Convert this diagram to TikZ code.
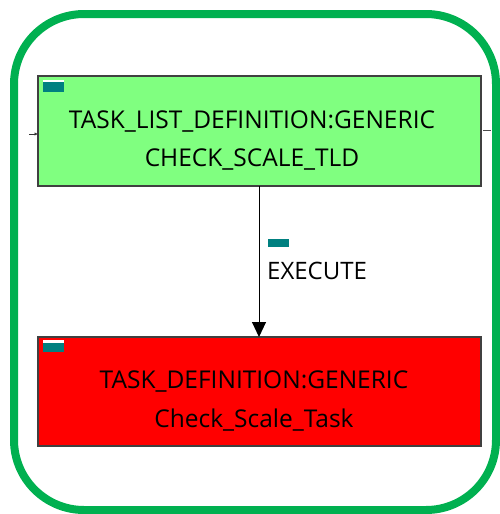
\documentclass[tikz,border=0pt]{standalone}
\usepackage{fontspec}
\setmainfont{Open Sans}
\usetikzlibrary{arrows.meta}
\definecolor{framegreen}{RGB}{0,176,80}
\definecolor{listgreen}{RGB}{128,255,128}
\definecolor{tagteal}{RGB}{0,128,128}
\tikzset{
  frame/.style={draw=framegreen, line width=8pt, rounded corners=70pt},
  taskbox/.style={draw=black!75, line width=1.2pt},
  tag/.style={fill=tagteal, draw=none},
  label/.style={font=\fontsize{24.5pt}{28pt}\selectfont, text=black, inner sep=0pt},
}
\begin{document}
\begin{tikzpicture}[x=1pt,y=-1pt]
  \useasboundingbox (0,0) rectangle (500,514);
  % outer rounded frame
  \draw[frame] (14,14) rectangle (496,510);
  % task list box
  \draw[taskbox, fill=listgreen] (38,76) rectangle (481,186);
  \coordinate (tl) at (259,186);
  \fill[white] (43,79.5) rectangle (64,82);
  \fill[tag] (43,82) rectangle (64,92);
  \node[label] (t1) at (252,121) {TASK\_LIST\_DEFINITION:GENERIC};
  \node[label] (t2) at (252,160) {CHECK\_SCALE\_TLD};
  % side stubs
  \coordinate (ls) at (29,134);
  \coordinate (le) at (38,134);
  \draw[black!80, line width=0.8pt, -{Latex[length=3.5pt,width=3.5pt]}] (ls) -- (le);
  \coordinate (rs) at (483,130);
  \coordinate (re) at (491,130);
  \draw[black!70, line width=0.9pt] (rs) -- (re);
  % task box
  \draw[taskbox, fill=red] (38,337) rectangle (481,446);
  \coordinate (tt) at (259,337);
  \fill[white] (43,340) rectangle (64,342.5);
  \fill[tag] (43,342.5) rectangle (64,352);
  \node[label] (t3) at (254,381) {TASK\_DEFINITION:GENERIC};
  \node[label] (t4) at (254,420) {Check\_Scale\_Task};
  % execute connector
  \draw[line width=1pt, -{Triangle[length=15pt,width=14pt]}] (tl) -- (tt);
  \fill[tag] (268,239) rectangle (289,247);
  \node[label, anchor=west, font=\fontsize{24pt}{28pt}\selectfont] (ex) at (267,271) {EXECUTE};
\end{tikzpicture}
\end{document}
